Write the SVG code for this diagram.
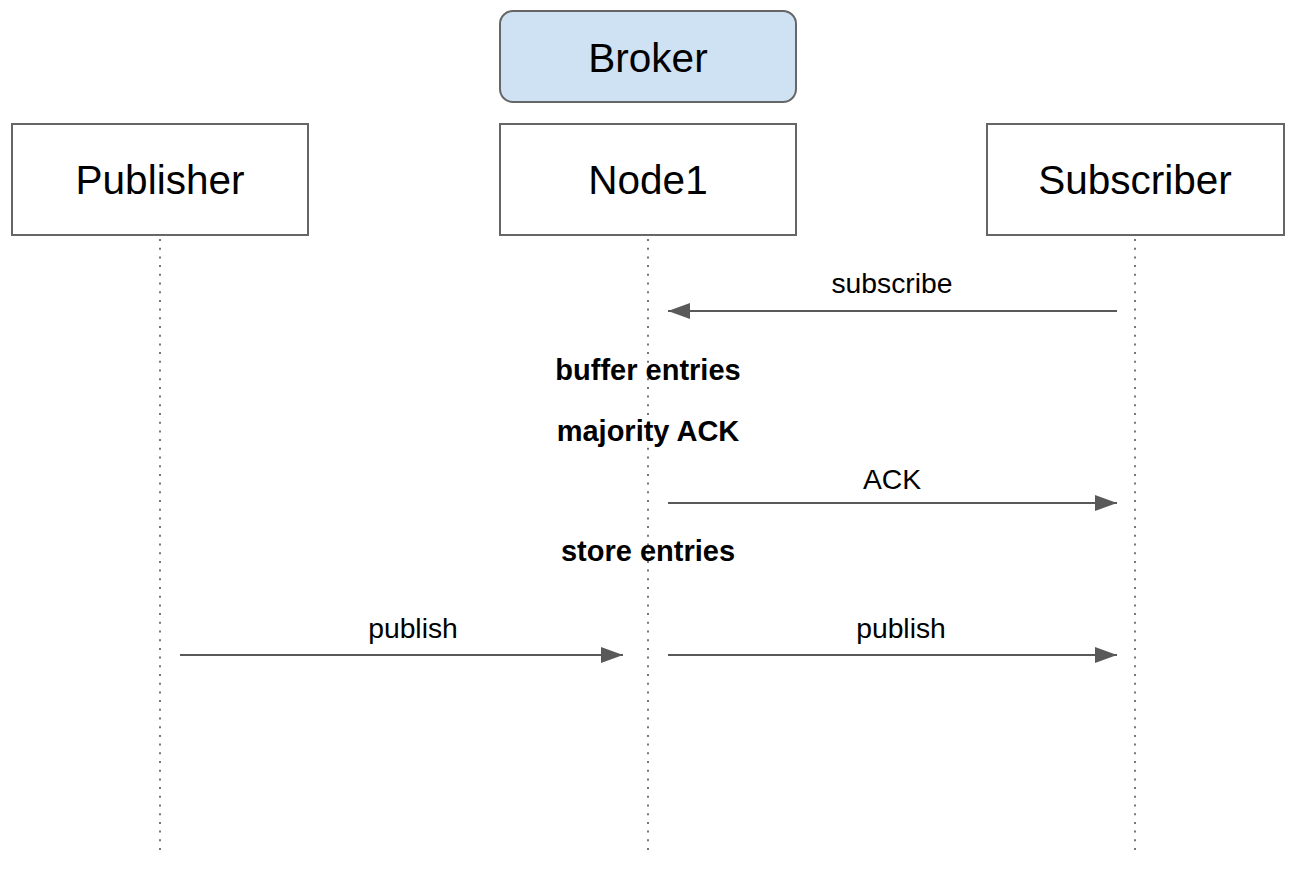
<svg xmlns="http://www.w3.org/2000/svg" width="1300" height="874" viewBox="0 0 1300 874">
<style>
.box{fill:#ffffff;stroke:#666666;stroke-width:2}
.broker{fill:#cfe2f3;stroke:#666666;stroke-width:2}
.life{stroke:#777777;stroke-width:2;stroke-dasharray:2 6.7;fill:none}
.msg{stroke:#595959;stroke-width:2;fill:none}
.title{font-family:"Liberation Sans",Arial,sans-serif;font-size:40.5px;fill:#000000;text-anchor:middle}
.lbl{font-family:"Liberation Sans",Arial,sans-serif;font-size:28.3px;fill:#000000;text-anchor:middle}
.note{font-family:"Liberation Sans",Arial,sans-serif;font-size:29px;font-weight:bold;fill:#000000;text-anchor:middle}
</style>
<defs>
<marker id="ah" markerWidth="11" markerHeight="8" refX="11" refY="4" orient="auto" markerUnits="strokeWidth">
<path d="M0,0 L11,4 L0,8 Z" fill="#595959"/>
</marker>
</defs>
<rect width="1300" height="874" fill="#ffffff"/>
<g id="broker">
<rect class="broker" x="500" y="11" width="296" height="91" rx="13"/>
<text class="title" x="648" y="72">Broker</text>
</g>
<g id="publisher">
<rect class="box" x="12" y="124" width="296" height="111"/>
<text class="title" x="160" y="194">Publisher</text>
</g>
<g id="node1">
<rect class="box" x="500" y="124" width="296" height="111"/>
<text class="title" x="648" y="194">Node1</text>
</g>
<g id="subscriber">
<rect class="box" x="987" y="124" width="297" height="111"/>
<text class="title" x="1135" y="194">Subscriber</text>
</g>
<g id="lifelines">
<line class="life" x1="160" y1="239" x2="160" y2="854"/>
<line class="life" x1="648" y1="239" x2="648" y2="854"/>
<line class="life" x1="1135" y1="239" x2="1135" y2="854"/>
</g>
<g id="notes">
<text class="note" x="648" y="380">buffer entries</text>
<text class="note" x="648" y="441">majority ACK</text>
<text class="note" x="648" y="561">store entries</text>
</g>
<g id="connectors">
<line class="msg" x1="1117" y1="311" x2="668" y2="311" marker-end="url(#ah)"/>
<text class="lbl" x="892" y="293">subscribe</text>
<line class="msg" x1="668" y1="503" x2="1117" y2="503" marker-end="url(#ah)"/>
<text class="lbl" x="892" y="489">ACK</text>
<line class="msg" x1="180" y1="655" x2="623" y2="655" marker-end="url(#ah)"/>
<text class="lbl" x="413" y="638">publish</text>
<line class="msg" x1="668" y1="655" x2="1117" y2="655" marker-end="url(#ah)"/>
<text class="lbl" x="901" y="638">publish</text>
</g>
</svg>
